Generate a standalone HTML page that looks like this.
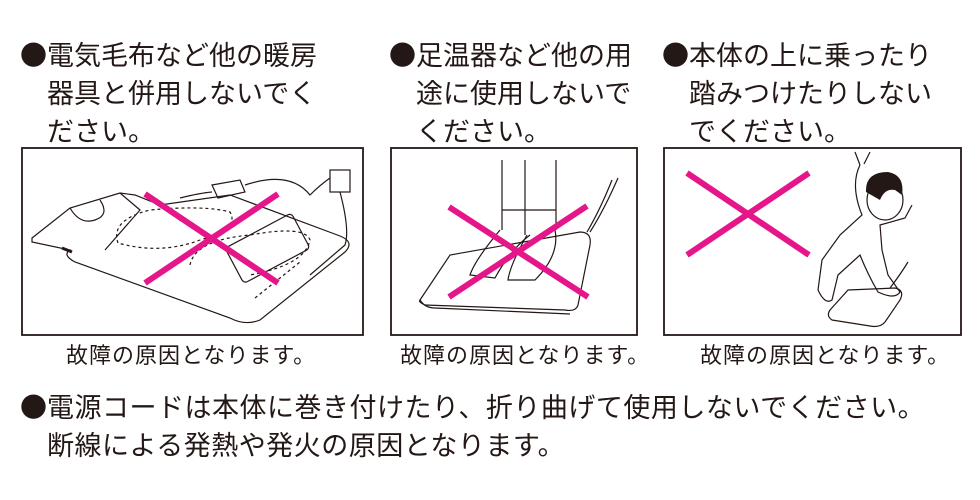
<!DOCTYPE html>
<html><head><meta charset="utf-8"><style>
body{margin:0;width:980px;height:500px;background:#fff;position:relative;overflow:hidden;font-family:"Liberation Sans","Noto Sans CJK JP",sans-serif;color:#231815}
.t{position:absolute;font-size:27px;line-height:35px;white-space:nowrap;letter-spacing:0px}
.b{font-family:"Noto Sans CJK JP",sans-serif;letter-spacing:0}
.c{position:absolute;font-size:22px;line-height:24px;white-space:nowrap;letter-spacing:1px}
svg{position:absolute;left:0;top:0}
</style></head><body>
<div class="t" style="left:20px;top:36px"><span class="b">●</span>電気毛布など他の暖房<br><span class="b">&#x3000;</span>器具と併用しないでく<br><span class="b">&#x3000;</span>ださい。</div>
<div class="t" style="left:389px;top:36px"><span class="b">●</span>足温器など他の用<br><span class="b">&#x3000;</span>途に使用しないで<br><span class="b">&#x3000;</span>ください。</div>
<div class="t" style="left:662px;top:36px"><span class="b">●</span>本体の上に乗ったり<br><span class="b">&#x3000;</span>踏みつけたりしない<br><span class="b">&#x3000;</span>でください。</div>
<div class="c" style="left:66px;top:344px">故障の原因となります。</div>
<div class="c" style="left:400px;top:344px">故障の原因となります。</div>
<div class="c" style="left:700px;top:344px">故障の原因となります。</div>
<div class="t" style="left:20px;top:388px;letter-spacing:0.5px"><span class="b">●</span>電源コードは本体に巻き付けたり、折り曲げて使用しないでください。<br><span class="b">&#x3000;</span>断線による発熱や発火の原因となります。</div>
<svg width="980" height="500" viewBox="0 0 980 500">
<g fill="none" stroke="#231815" stroke-width="1.8">
<rect x="22" y="148" width="341" height="187"/>
<rect x="391" y="148" width="246" height="187"/>
<rect x="664" y="148" width="297" height="187"/>
</g>
<g fill="none" stroke="#231815" stroke-width="1.2">
<path d="M32 238 L70 208 L120 193 L135 195 L160 205 L230 195 L340 236 Q355 242 345 252 L260 320 Q245 326 230 318 L75 262 Q62 255 70 250 L32 242 Z"/>
<path d="M70 208 Q80 225 95 220 Q110 215 100 200"/>
<path d="M120 193 L140 210 L105 250"/>
<rect x="230" y="228" width="75" height="40" rx="4" transform="rotate(-28 268 248)"/>
<path d="M118 243 Q110 220 150 210 Q205 205 230 212 Q240 228 200 240 Q160 255 118 243Z" stroke-dasharray="3,3"/>
<path d="M190 265 Q195 240 250 235 Q305 225 310 240 Q305 265 250 275" stroke-dasharray="3,3"/>
<path d="M255 298 L300 262" stroke-dasharray="3,3"/>
<path d="M212 185 L240 180 L245 192 L218 198 Z"/>
<path d="M245 185 Q290 170 310 195 Q320 185 330 178"/>
<path d="M180 198 Q200 193 212 192"/>
<rect x="330" y="170" width="20" height="22"/>
<path d="M340 192 Q350 230 345 245 L310 275"/>
<path d="M62 248 L72 252" stroke-width="3"/>
<path d="M420 300 L450 255 L580 232 Q592 232 590 245 L578 305 Q576 312 565 310 L425 305 Q418 302 420 300 Z"/>
<path d="M420 300 Q425 308 435 308 L570 314"/>
<path d="M502 160 L502 230 M525 160 L525 235 M556 160 L556 230 M502 210 L556 210"/>
<path d="M500 230 Q475 260 470 275 L495 278 Q510 250 530 235"/>
<path d="M527 235 Q510 265 508 280 L535 280 Q560 255 555 230"/>
<path d="M587 232 Q600 210 612 180 M590 232 Q604 210 618 178"/>
<path d="M830 310 L848 290 L895 288 Q905 290 900 300 L885 322 Q880 328 870 326 L832 320 Q826 316 830 310 Z"/>
<path d="M890 288 Q900 275 908 262"/>
<path d="M860 165 Q850 185 862 215 L840 235 L822 260 L818 290 Q825 305 832 300 L838 275 L860 255 Q868 275 878 292 Q895 300 900 292 L888 275 L882 250 L880 225 L905 218 L912 205"/>
<path d="M860 165 L855 152 M864 164 L870 152"/>
<ellipse cx="885" cy="200" rx="18" ry="20"/>
</g>
<path d="M866 192 Q865 172 888 172 Q905 175 902 195 L895 190 Q885 188 880 200 Z" fill="#231815"/>
<g stroke="#e5168a" stroke-width="6" stroke-linecap="butt">
<line x1="145" y1="194" x2="278" y2="283"/><line x1="278" y1="194" x2="145" y2="283"/>
<line x1="449" y1="207" x2="588" y2="297"/><line x1="587" y1="206" x2="449" y2="297"/>
<line x1="687" y1="173" x2="809" y2="255"/><line x1="809" y1="173" x2="687" y2="255"/>
</g>
</svg>
</body></html>
